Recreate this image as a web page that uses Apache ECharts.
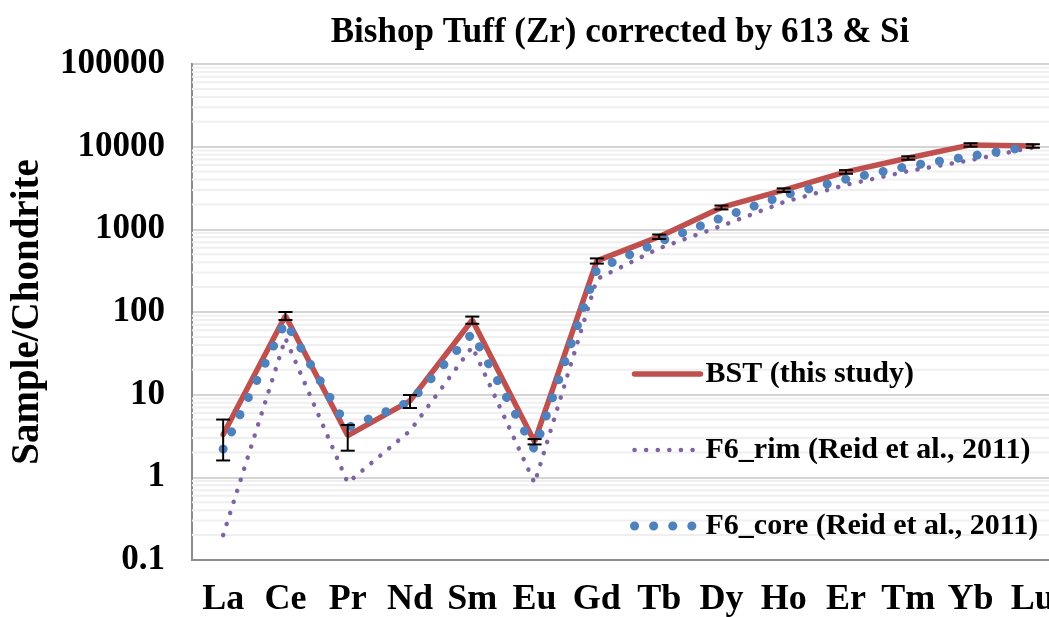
<!DOCTYPE html>
<html>
<head>
<meta charset="utf-8">
<script src="https://cdn.jsdelivr.net/npm/echarts@6/dist/echarts.min.js"></script>
<style>
  html, body { margin: 0; padding: 0; background: #fff; }
  #chart { width: 1049px; height: 617px; }
</style>
</head>
<body>
<div id="chart"></div>
<script>
const elements = ['La', 'Ce', 'Pr', 'Nd', 'Sm', 'Eu', 'Gd', 'Tb', 'Dy', 'Ho', 'Er', 'Tm', 'Yb', 'Lu']
const bst = [3.3, 90, 3.2, 8.4, 80, 2.7, 415, 815, 1840, 2980, 4950, 7300, 10500, 10200]
const bstErr = [1.7, 10, 1.1, 1.5, 8, 0.2, 30, 50, 100, 150, 250, 350, 500, 500]
const f6Rim = [0.2, 48, 0.86, 3.65, 38, 0.85, 250, 590, 1100, 2130, 3450, 5060, 6870, 9800]
const f6Core = [2.2, 76, 4.0, 8.2, 55, 2.15, 330, 706, 1380, 2570, 4050, 5800, 7670, 10200]
const decades = [0.1, 1, 10, 100, 1000, 10000]
const minorSteps = [2, 3, 4, 5, 6, 7, 8, 9]

const minorValues = []
decades.forEach(d => minorSteps.forEach(s => minorValues.push(d * s)))

const font = 'Liberation Serif'
const chart = echarts.init(document.getElementById('chart'))

const rimLine = { color: '#8064a2', width: 4.5, type: [0.1, 11.5], cap: 'round' }
const bstLine = { color: '#c0504d', width: 5.5, cap: 'round' }
const coreLine = { color: '#4f81bd', width: 9, type: [0.1, 19], cap: 'round' }

const option = {
  backgroundColor: '#fff',
  animation: false,
  title: {
    text: 'Bishop Tuff (Zr) corrected by 613 & Si',
    left: 615,
    textAlign: 'center',
    top: 10,
    textStyle: { fontFamily: font, fontWeight: 'bold', fontSize: 35, color: '#000' }
  },
  legend: {
    orient: 'vertical',
    left: 630,
    top: 359,
    padding: 0,
    itemWidth: 66,
    itemHeight: 14,
    itemGap: 46,
    itemStyle: { opacity: 0 },
    textStyle: { fontFamily: font, fontWeight: 'bold', fontSize: 30, color: '#000' },
    data: [
      { name: 'BST (this study)', lineStyle: bstLine },
      { name: 'F6_rim (Reid et al., 2011)', lineStyle: rimLine },
      { name: 'F6_core (Reid et al., 2011)', lineStyle: coreLine }
    ]
  },
  grid: {
    left: 192,
    top: 64,
    width: 872,
    height: 496,
    show: true,
    borderColor: '#8c8c8c',
    borderWidth: 2,
    containLabel: false,
    outerBoundsMode: 'none'
  },
  xAxis: {
    type: 'category',
    data: elements,
    boundaryGap: true,
    axisLine: { show: true, lineStyle: { color: '#8c8c8c', width: 2 } },
    axisTick: { show: false },
    axisLabel: {
      margin: 22,
      interval: 0,
      fontFamily: font,
      fontWeight: 'bold',
      fontSize: 36,
      color: '#000'
    }
  },
  yAxis: {
    type: 'log',
    logBase: 10,
    min: 0.1,
    max: 100000,
    name: 'Sample/Chondrite',
    nameLocation: 'middle',
    nameGap: 145,
    nameTextStyle: { fontFamily: font, fontWeight: 'bold', fontSize: 39, color: '#000' },
    axisLine: { show: true, lineStyle: { color: '#8c8c8c', width: 2 } },
    axisTick: { show: false },
    axisLabel: {
      margin: 27,
      fontFamily: font,
      fontWeight: 'bold',
      fontSize: 35,
      color: '#000',
      formatter: v => String(Number(v.toPrecision(6)))
    },
    splitLine: { show: true, lineStyle: { color: '#d4d4d4', width: 2 } }
  },
  series: [
    {
      // minor grid lines at 2..9 of each decade
      type: 'custom',
      silent: true,
      z: 1,
      data: minorValues.map(v => [0, v]),
      encode: { x: 0, y: 1 },
      renderItem: (params, api) => {
        const cs = params.coordSys
        const y = api.coord([0, api.value(1)])[1]
        return {
          type: 'line',
          shape: { x1: cs.x, y1: y, x2: cs.x + cs.width, y2: y },
          style: { stroke: '#efefef', lineWidth: 2 }
        }
      }
    },
    {
      name: 'F6_rim (Reid et al., 2011)',
      type: 'line',
      z: 3,
      data: f6Rim,
      symbol: 'none',
      color: '#8064a2',
      lineStyle: rimLine
    },
    {
      name: 'BST (this study)',
      type: 'line',
      z: 4,
      data: bst,
      symbol: 'none',
      color: '#c0504d',
      lineStyle: bstLine
    },
    {
      name: 'F6_core (Reid et al., 2011)',
      type: 'line',
      z: 5,
      data: f6Core,
      symbol: 'none',
      color: '#4f81bd',
      lineStyle: coreLine
    },
    {
      // error bars of BST
      type: 'custom',
      silent: true,
      z: 6,
      data: bst.map((v, i) => [i, v - bstErr[i], v + bstErr[i]]),
      encode: { x: 0, y: [1, 2] },
      renderItem: (params, api) => {
        const lo = api.coord([api.value(0), api.value(1)])
        const hi = api.coord([api.value(0), api.value(2)])
        const w = 7
        const st = { stroke: '#000', lineWidth: 2 }
        return {
          type: 'group',
          children: [
            { type: 'line', shape: { x1: lo[0], y1: lo[1], x2: hi[0], y2: hi[1] }, style: st },
            { type: 'line', shape: { x1: lo[0] - w, y1: lo[1], x2: lo[0] + w, y2: lo[1] }, style: st },
            { type: 'line', shape: { x1: hi[0] - w, y1: hi[1], x2: hi[0] + w, y2: hi[1] }, style: st }
          ]
        }
      }
    }
  ]
}

chart.setOption(option)
</script>
</body>
</html>
